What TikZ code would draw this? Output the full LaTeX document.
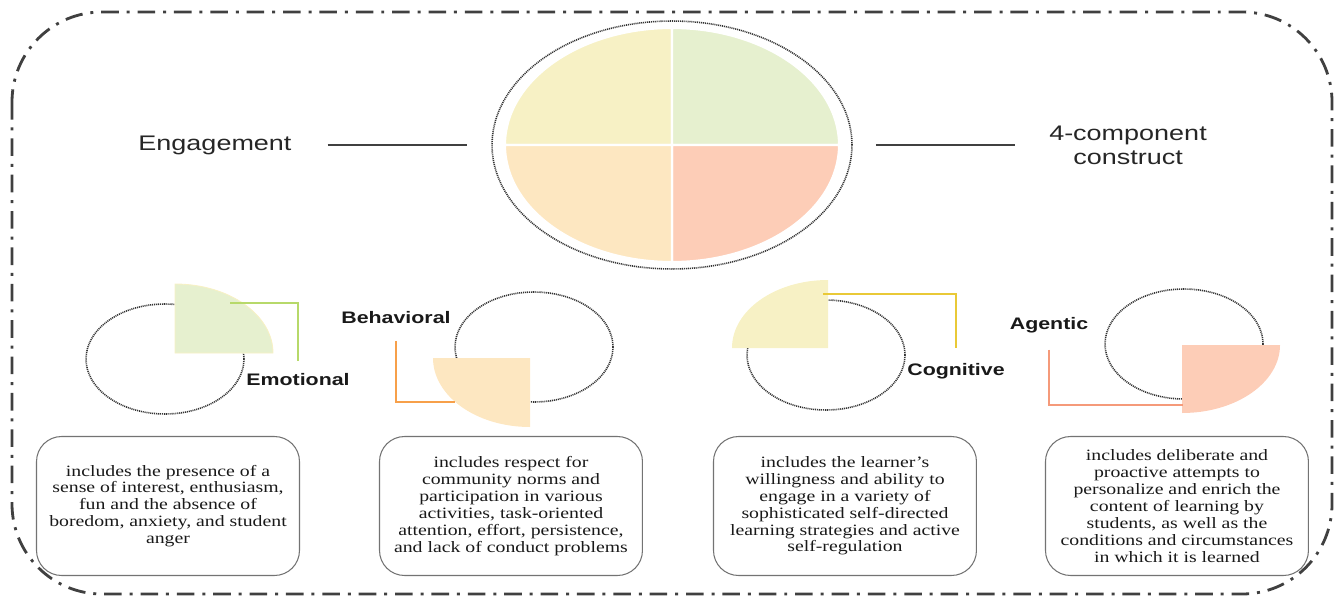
\documentclass[tikz,border=0pt]{standalone}
\usepackage{fontspec}
\setmainfont{Liberation Serif}[FakeStretch=1.25]
\newfontfamily\sansstretch{Liberation Sans}[FakeStretch=1.28]
\usepackage{tikz}
\usetikzlibrary{positioning}
\usetikzlibrary{shapes.geometric}
\definecolor{qyellow}{HTML}{F7F1C5}
\definecolor{qgreen}{HTML}{E6F0CF}
\definecolor{qorange}{HTML}{FDE7C1}
\definecolor{qsalmon}{HTML}{FDCDB7}
\definecolor{lgreen}{HTML}{B7D96A}
\definecolor{lorange}{HTML}{F7A04A}
\definecolor{lyellow}{HTML}{E9C937}
\definecolor{lsalmon}{HTML}{F59A7A}
\tikzstyle{textbox} = [draw = black!55, line width = 0.6pt, rounded corners = 0.5cm, minimum width = 5.26cm, minimum height = 2.78cm, align = center, text = black!90, font = \fontsize{9}{9.6}\selectfont]
\tikzstyle{compname} = [text = black!90, font = \sansstretch\bfseries\fontsize{9.5}{11}\selectfont]
\tikzstyle{ring} = [ellipse, draw = black!80, dash pattern = on 0.6pt off 0.5pt, line width = 0.9pt, inner sep = 0pt]
\tikzstyle{link} = [line width = 1.1pt]

\begin{document}
\begin{tikzpicture}[x = 0.02cm, y = -0.02cm]
		\useasboundingbox (0,0) rectangle (1341,598);
		
		% Frame
		\draw[line width = 1.6pt, black!75, dash pattern = on 10pt off 4.5pt on 1.7pt off 4.5pt, rounded corners = 1.8cm] (12,12) rectangle (1332,594);
		
		% Big circle
		\node[ring, minimum width = 7.2cm, minimum height = 4.96cm] (bigring) at (672,145) {};
		\fill[qyellow, draw = white, line width = 1.2pt] (672,145) -- ++(-167,0) arc[start angle = 180, end angle = 270, x radius = 167, y radius = 117] -- cycle;
		\fill[qgreen, draw = white, line width = 1.2pt] (672,145) -- ++(0,-117) arc[start angle = 270, end angle = 360, x radius = 167, y radius = 117] -- cycle;
		\fill[qsalmon, draw = white, line width = 1.2pt] (672,145) -- ++(167,0) arc[start angle = 0, end angle = 90, x radius = 167, y radius = 117] -- cycle;
		\fill[qorange, draw = white, line width = 1.2pt] (672,145) -- ++(0,117) arc[start angle = 90, end angle = 180, x radius = 167, y radius = 117] -- cycle;
		
		% Titles
		\node[text = black!85, font = \sansstretch\fontsize{12}{14}\selectfont] (engage) at (215,145) {Engagement};
		\node[text = black!85, font = \sansstretch\fontsize{12}{13.6}\selectfont, align = center] (construct) at (1128,145) {4-component\\construct};
		\coordinate[right = 0.6 cm of engage] (rengage);
		\coordinate[left = 0.48 cm of bigring] (lbigring);
		\coordinate[right = 0.46 cm of bigring] (rbigring);
		\coordinate[left = 0.56 cm of construct] (lconstruct);
		\draw[line width = 1pt, black!75] (rengage) -- (lbigring);
		\draw[line width = 1pt, black!75] (rbigring) -- (lconstruct);
		
		% Emotional
		\node[ring, minimum width = 3.16cm, minimum height = 2.2cm] (emoring) at (165,359) {};
		\fill[qgreen, draw = qyellow, line width = 0.5pt] (175,353) -- ++(0,-69) arc[start angle = 270, end angle = 360, x radius = 98, y radius = 69] -- cycle;
		\node[compname] (emolabel) at (298,380) {Emotional};
		\coordinate (emotip) at (230,303);
		\draw[link, lgreen, shorten > = 4pt] (emotip) -| (emolabel.north);
		
		% Behavioral
		\node[ring, minimum width = 3.16cm, minimum height = 2.2cm] (behring) at (534,347) {};
		\fill[qorange] (530,358) -- ++(0,69) arc[start angle = 90, end angle = 180, x radius = 97, y radius = 69] -- cycle;
		\node[compname] (behlabel) at (396,318) {Behavioral};
		\coordinate (behtip) at (455,402);
		\draw[link, lorange, shorten < = 6pt] (behlabel.south) |- (behtip);
		
		% Cognitive
		\node[ring, minimum width = 3.16cm, minimum height = 2.2cm] (cogring) at (826,355) {};
		\fill[qyellow] (828,348) -- ++(-96,0) arc[start angle = 180, end angle = 270, x radius = 96, y radius = 68] -- cycle;
		\node[compname] (coglabel) at (956,371) {Cognitive};
		\coordinate (cogtip) at (823,294);
		\draw[link, lyellow, shorten > = 5pt] (cogtip) -| (coglabel.north);
		
		% Agentic
		\node[ring, minimum width = 3.16cm, minimum height = 2.2cm] (agering) at (1184,344) {};
		\fill[qsalmon] (1182,345) -- ++(98,0) arc[start angle = 0, end angle = 90, x radius = 98, y radius = 68] -- cycle;
		\node[compname] (agelabel) at (1049,325) {Agentic};
		\coordinate (agetip) at (1183,405);
		\draw[link, lsalmon, shorten < = 6pt] (agelabel.south) |- (agetip);
		
		% Descriptions
		\node[textbox] (emobox) at (168,506) {includes the presence of a\\ sense of interest, enthusiasm,\\ fun and the absence of\\ boredom, anxiety, and student\\ anger};
		\node[textbox, right = 1.58 cm of emobox] (behbox) {includes respect for\\ community norms and\\ participation in various\\ activities, task-oriented\\ attention, effort, persistence,\\ and lack of conduct problems};
		\node[textbox, right = 1.40 cm of behbox] (cogbox) {includes the learner's\\ willingness and ability to\\ engage in a variety of\\ sophisticated self-directed\\ learning strategies and active\\ self-regulation};
		\node[textbox, right = 1.36 cm of cogbox] (agebox) {includes deliberate and\\ proactive attempts to\\ personalize and enrich the\\ content of learning by\\ students, as well as the\\ conditions and circumstances\\ in which it is learned};
		
	\end{tikzpicture}
\end{document}
